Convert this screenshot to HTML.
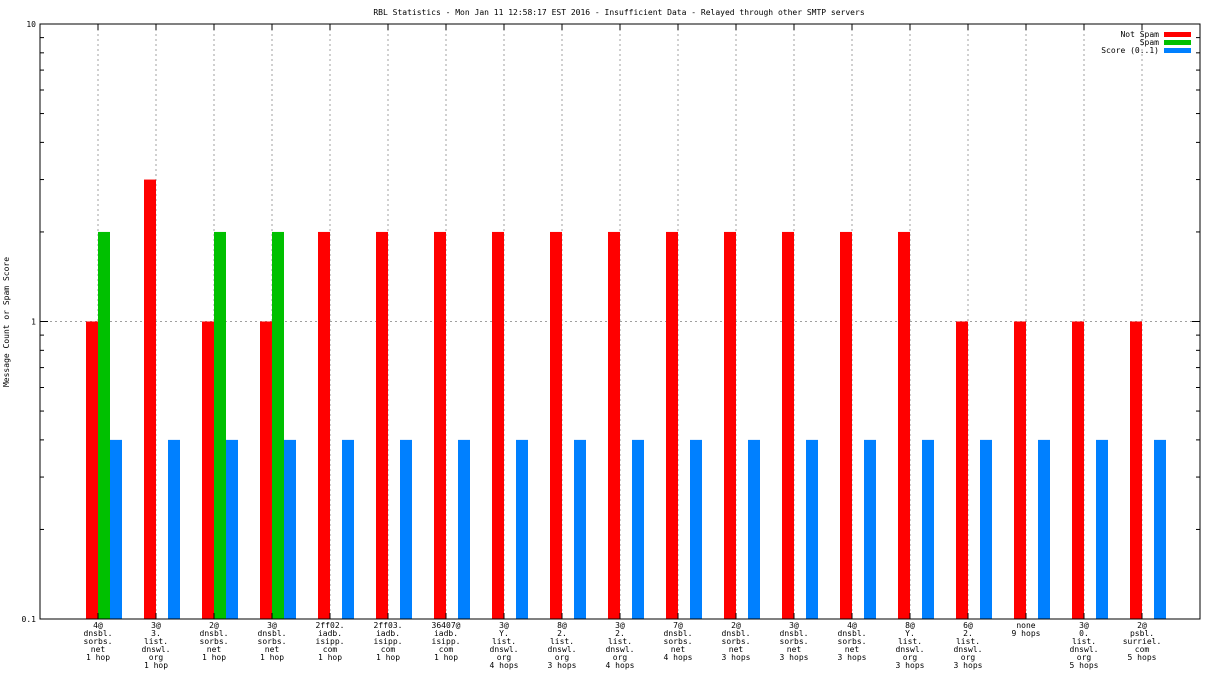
<!DOCTYPE html>
<html><head><meta charset="utf-8"><style>
body{margin:0;background:#fff}
svg text{font-family:"DejaVu Sans Mono","Liberation Mono",monospace;font-size:8px;fill:#000}
</style></head><body>
<svg id="c" width="1216" height="684" xmlns="http://www.w3.org/2000/svg"></svg>
<script>
const categories=[
["4@","dnsbl.","sorbs.","net","1 hop"],
["3@","3.","list.","dnswl.","org","1 hop"],
["2@","dnsbl.","sorbs.","net","1 hop"],
["3@","dnsbl.","sorbs.","net","1 hop"],
["2ff02.","iadb.","isipp.","com","1 hop"],
["2ff03.","iadb.","isipp.","com","1 hop"],
["36407@","iadb.","isipp.","com","1 hop"],
["3@","Y.","list.","dnswl.","org","4 hops"],
["8@","2.","list.","dnswl.","org","3 hops"],
["3@","2.","list.","dnswl.","org","4 hops"],
["7@","dnsbl.","sorbs.","net","4 hops"],
["2@","dnsbl.","sorbs.","net","3 hops"],
["3@","dnsbl.","sorbs.","net","3 hops"],
["4@","dnsbl.","sorbs.","net","3 hops"],
["8@","Y.","list.","dnswl.","org","3 hops"],
["6@","2.","list.","dnswl.","org","3 hops"],
["none","9 hops"],
["3@","0.","list.","dnswl.","org","5 hops"],
["2@","psbl.","surriel.","com","5 hops"]];
const notSpam=[1,3,1,1,2,2,2,2,2,2,2,2,2,2,2,1,1,1,1];
const spam=[2,0,2,2,0,0,0,0,0,0,0,0,0,0,0,0,0,0,0];
const score=[0.4,0.4,0.4,0.4,0.4,0.4,0.4,0.4,0.4,0.4,0.4,0.4,0.4,0.4,0.4,0.4,0.4,0.4,0.4];
const yTicks=[0.1,1,10];
const yTickLabels=["0.1","1","10"];

const L=40,R=1200,T=24,B=619;
const svg=document.getElementById('c');
const NS='http://www.w3.org/2000/svg';
function mk(t,a,p){const e=document.createElementNS(NS,t);for(const k in a)e.setAttribute(k,a[k]);(p||svg).appendChild(e);return e;}
function y(v){return B-(Math.log10(v)+1)/2*(B-T);}
function xc(i){return 98+i*58;}

let t=mk('text',{x:619,y:15,'text-anchor':'middle'});t.textContent='RBL Statistics - Mon Jan 11 12:58:17 EST 2016 - Insufficient Data - Relayed through other SMTP servers';


t=mk('text',{x:9,y:322,'text-anchor':'middle',transform:'rotate(-90 9 322)'});t.textContent='Message Count or Spam Score';



// grid
categories.forEach((c,i)=>{const l=mk('line',{x1:xc(i),x2:xc(i),y1:T,y2:B,stroke:'#a0a0a0','stroke-dasharray':'2,3'});

});
let g=mk('line',{x1:L,x2:R,y1:y(1),y2:y(1),stroke:'#a0a0a0','stroke-dasharray':'2,3'});



// bars
const series=[[notSpam,'#ff0000',-12,'bar-not-spam'],[spam,'#00c000',0,'bar-spam'],[score,'#0080ff',12,'bar-score']];
series.forEach(s=>{s[0].forEach((v,i)=>{if(v<=0)return;const r=mk('rect',{x:xc(i)+s[2],y:y(v),width:12,height:B-y(v),fill:s[1]});

});});

// axes
let a=mk('rect',{x:L,y:T,width:R-L,height:B-T,fill:'none',stroke:'#000','stroke-width':1});


yTicks.forEach((v,i)=>{mk('line',{x1:L,x2:L+8,y1:y(v),y2:y(v),stroke:'#000'});mk('line',{x1:R,x2:R-8,y1:y(v),y2:y(v),stroke:'#000'});
const tx=mk('text',{x:L-4,y:y(v)+3,'text-anchor':'end'});tx.textContent=yTickLabels[i];

});
for(let d=0.1;d<10;d*=10){for(let k=2;k<10;k++){const yy=y(d*k);mk('line',{x1:L,x2:L+4,y1:yy,y2:yy,stroke:'#000'});mk('line',{x1:R,x2:R-4,y1:yy,y2:yy,stroke:'#000'});}}
categories.forEach((c,i)=>{mk('line',{x1:xc(i),x2:xc(i),y1:B,y2:B-6,stroke:'#000'});mk('line',{x1:xc(i),x2:xc(i),y1:T,y2:T+6,stroke:'#000'});
const tx=mk('text',{x:xc(i),y:628,'text-anchor':'middle'});


c.forEach((s,j)=>{const ts=mk('tspan',{x:xc(i),dy:j?8:0},tx);ts.textContent=s;});});

// legend
const leg=[['Not Spam','#ff0000'],['Spam','#00c000'],['Score (0..1)','#0080ff']];
leg.forEach((l,i)=>{const yy=34+i*8;const tx=mk('text',{x:1159,y:yy+3,'text-anchor':'end'});tx.textContent=l[0];


const r=mk('rect',{x:1164,y:yy-2,width:27,height:5,fill:l[1]});

});
</script>
</body></html>
